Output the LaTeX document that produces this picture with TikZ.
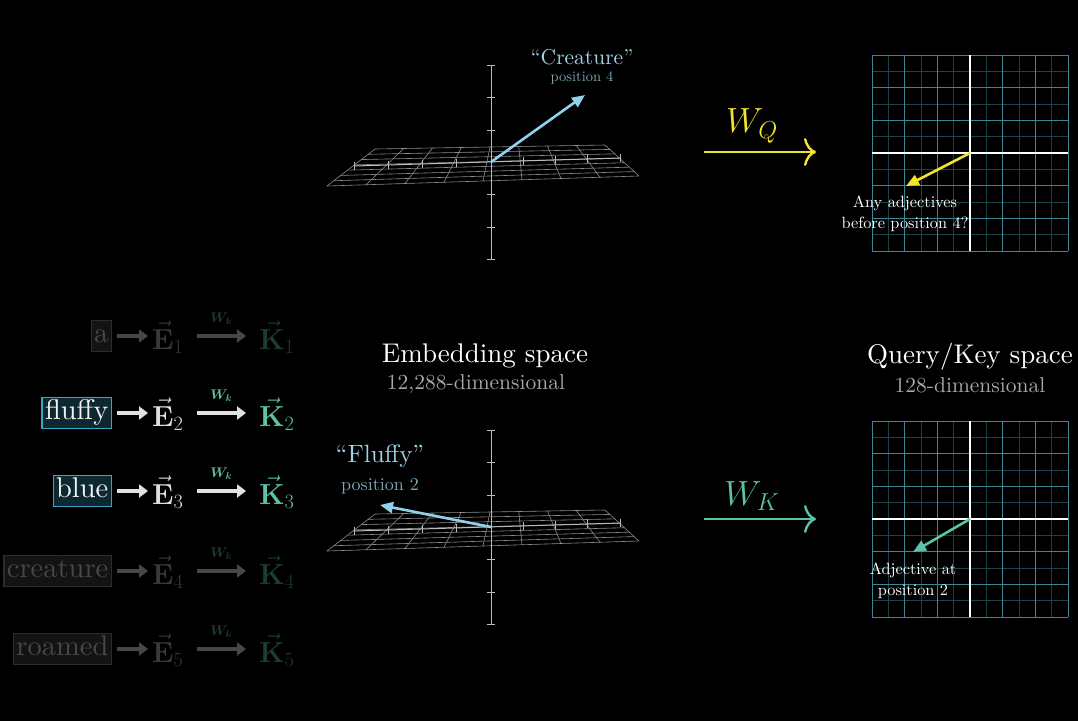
\RequirePackage{fix-cm}
\documentclass[tikz,border=0pt]{standalone}
\usepackage{amsmath}
\usepackage[no-math]{fontspec}
\setmainfont{lmroman10-regular.otf}
\usetikzlibrary{arrows.meta,calc}
\definecolor{keyteal}{HTML}{5CC2A8}
\definecolor{qyellow}{HTML}{F2E32C}
\definecolor{vecblue}{HTML}{90D2EC}
\definecolor{lblblue}{HTML}{9FD3E6}
\definecolor{posblue}{HTML}{7EA8B8}
\definecolor{axisgray}{HTML}{BBBBBB}
\definecolor{subgray}{HTML}{A8A8A8}
\definecolor{planegray}{HTML}{8C8C8C}
\definecolor{gridmajor}{HTML}{3E8691}
\definecolor{gridminor}{HTML}{1D4148}
% token rows, lit and dim
\definecolor{boxlit}{HTML}{3AA5C8}
\definecolor{boxdim}{HTML}{2C2C2C}
\definecolor{filllit}{HTML}{0E2832}
\definecolor{filldim}{HTML}{131313}
\definecolor{txtlit}{HTML}{F2F2F2}
\definecolor{txtdim}{HTML}{484848}
\definecolor{arrlit}{HTML}{E2E2E2}
\definecolor{arrdim}{HTML}{474747}
\definecolor{elit}{HTML}{DEDEDE}
\definecolor{edim}{HTML}{3A3A3A}
\definecolor{klit}{HTML}{5CC2A8}
\definecolor{kdim}{HTML}{1C3D35}
\newcommand{\pxfont}[2]{\fontsize{#1}{#2}\selectfont}

\begin{document}
\begin{tikzpicture}[x=1pt,y=-1pt,
  word/.style={draw,line width=1.2pt,inner sep=3pt,text height=19pt,text depth=6pt,font=\pxfont{28.5}{32}},
  vec/.style={font=\pxfont{29}{32},inner sep=0pt},
  tok/.style={line width=3.5pt,-{Triangle[length=9pt,width=13pt]}},
  wlab/.style={font=\pxfont{14}{16},inner sep=1pt},
  title/.style={font=\pxfont{27}{30},text=white},
  sub/.style={font=\pxfont{21.5}{24},text=subgray},
  plane/.style={planegray,line width=0.6pt},
  axis/.style={axisgray,line width=1pt},
  vecarr/.style={line width=2.6pt,-{Triangle[length=13pt,width=11pt]}},
  note/.style={font=\pxfont{16.3}{21},text=white,align=center,inner sep=0pt},
  mapto/.style={line width=2.4pt,-{Computer Modern Rightarrow[length=12pt,width=28pt]}},
  maplab/.style={font=\pxfont{35}{38}}]
  \fill[black] (0,0) rectangle (1078,721);
  \useasboundingbox (0,0) rectangle (1078,721);
  % tokens -> embeddings -> keys
  \foreach \w/\i/\y/\lv in {a/1/336/dim,fluffy/2/413/lit,blue/3/491/lit,creature/4/571/dim,roamed/5/649/dim}{
    \node[word,draw=box\lv,fill=fill\lv,text=txt\lv,anchor=east] (w\i) at (112,\y) {\w};
    \node[vec,text=e\lv,anchor=base west] (e\i) at (152,\y+13) {$\vec{\mathbf{E}}_{\i}$};
    \node[vec,text=k\lv,anchor=base west] (k\i) at (259,\y+13) {$\vec{\mathbf{K}}_{\i}$};
    \draw[tok,color=arr\lv,shorten <=5pt,shorten >=4pt] (w\i.east) -- (w\i.east -| e\i.west);
    \draw[tok,color=arr\lv,shorten <=13pt,shorten >=13pt] (e\i.east |- w\i.east) -- (k\i.west |- w\i.east)
      node[wlab,midway,above=9pt,text=k\lv] (l\i) {$\boldsymbol{W_k}$};
  }
  % embedding space plots
  \foreach \dy [count=\n] in {0,365}{
    \begin{scope}[shift={(0,\dy)}]
      \coordinate (bl) at (375,149);
      \coordinate (br) at (605,145);
      \coordinate (fr) at (639,176);
      \coordinate (fl) at (327,186);
      \coordinate (xa) at (354,166);
      \coordinate (xb) at (620,158);
      \coordinate (org\n) at (491,162);
      \foreach \j in {0,...,8}
        \draw[plane] ($(bl)!{\j/8}!(br)$) -- ($(fl)!{\j/8}!(fr)$);
      \foreach \j in {0,...,7}
        \draw[plane] ($(bl)!{\j/7}!(fl)$) -- ($(br)!{\j/7}!(fr)$);
      \draw[axis] (xa) -- (xb);
      \foreach \t in {0,0.25,0.5,0.75}{
        \draw[axis] ($(xa)!\t!(org\n)$) ++(0,-4) -- ++(0,8);
        \draw[axis] ($(xb)!\t!(org\n)$) ++(0,-4) -- ++(0,8);}
      \draw[axis] (491,65) -- (491,259);
      \foreach \v in {65,97,130,194,227,259}
        \draw[axis] (487,\v) -- (495,\v);
    \end{scope}
  }
  \coordinate (crttip) at (585,95);
  \coordinate (flftip) at (380,505);
  \draw[vecarr,vecblue] (org1) -- (crttip);
  \draw[vecarr,vecblue] (org2) -- (flftip);
  \node[font=\pxfont{21.5}{24},text=lblblue] (crt) at (582,57) {``Creature''};
  \node[font=\pxfont{14.5}{16},text=posblue] (crtpos) at (582,78) {position 4};
  \node[font=\pxfont{25}{28},text=lblblue] (flf) at (380,456) {``Fluffy''};
  \node[font=\pxfont{18}{20},text=posblue] (flfpos) at (380,486) {position 2};
  \node[title] (emb) at (485,356) {Embedding space};
  \node[sub] (embdim) at (476,384) {12,288-dimensional};
  % query / key space grids
  \foreach \dy [count=\n] in {0,366}{
    \begin{scope}[shift={(0,\dy)}]
      \foreach \k in {1,3,...,11}{
        \draw[gridminor,line width=0.8pt] (872+16.333*\k,55) -- ++(0,196);
        \draw[gridminor,line width=0.8pt] (872,55+16.333*\k) -- ++(196,0);}
      \foreach \k in {0,2,...,12}{
        \draw[gridmajor,line width=0.9pt] (872+16.333*\k,55) -- ++(0,196);
        \draw[gridmajor,line width=0.9pt] (872,55+16.333*\k) -- ++(196,0);}
      \draw[white,line width=1.3pt] (970,55) -- (970,251);
      \draw[white,line width=1.3pt] (872,153) -- (1068,153);
      \coordinate (qc\n) at (970,153);
    \end{scope}
  }
  \coordinate (qtip) at (906,186);
  \coordinate (ktip) at (913,552);
  \draw[vecarr,qyellow] (qc1) -- (qtip);
  \draw[vecarr,keyteal] (qc2) -- (ktip);
  \node[note] (qnote) at (905,214) {Any adjectives\\before position 4?};
  \node[note] (knote) at (913,581) {Adjective at\\position 2};
  \node[title] (qk) at (970,357) {Query/Key space};
  \node[sub] (qkdim) at (970,385) {128-dimensional};
  % projections
  \coordinate (qa) at (704,152);
  \coordinate (qb) at (816,152);
  \coordinate (ka) at (704,519);
  \coordinate (kb) at (816,519);
  \draw[mapto,qyellow] (qa) -- (qb);
  \draw[mapto,keyteal] (ka) -- (kb);
  \node[maplab,text=qyellow] (wq) at (752,126) {$W_Q$};
  \node[maplab,text=keyteal] (wkey) at (752,496) {$W_K$};
\end{tikzpicture}
\end{document}
